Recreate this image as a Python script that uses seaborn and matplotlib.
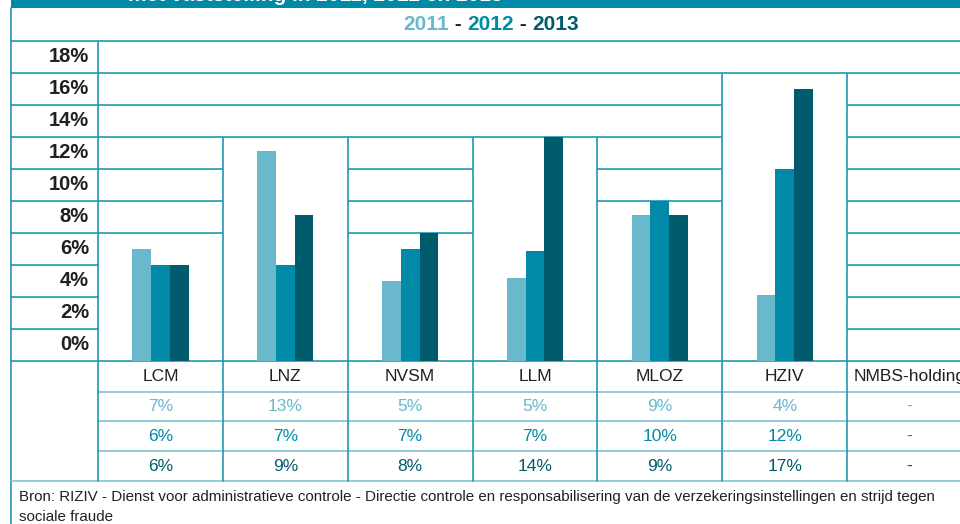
import numpy as np
import pandas as pd
import matplotlib
matplotlib.use("Agg")
import matplotlib.pyplot as plt
import seaborn as sns
from matplotlib.transforms import blended_transform_factory as btf
from matplotlib.patches import Rectangle

# ---------------- data ----------------
categories = ["LCM", "LNZ", "NVSM", "LLM", "MLOZ", "HZIV", "NMBS-holding"]
years = ["2011", "2012", "2013"]
v2011 = [7.0, 13.1, 5.0, 5.2, 9.1, 4.1, np.nan]
v2012 = [6.0, 6.0, 7.0, 6.9, 10.0, 12.0, np.nan]
v2013 = [6.0, 9.1, 8.0, 14.0, 9.1, 17.0, np.nan]
lab2011 = ["7%", "13%", "5%", "5%", "9%", "4%", "-"]
lab2012 = ["6%", "7%", "7%", "7%", "10%", "12%", "-"]
lab2013 = ["6%", "9%", "8%", "14%", "9%", "17%", "-"]
ytick_values = [0, 2, 4, 6, 8, 10, 12, 14, 16, 18]
title_text = "met vaststelling in 2011, 2012 en 2013"
source_text = ("Bron: RIZIV - Dienst voor administratieve controle - Directie controle en "
               "responsabilisering van de verzekeringsinstellingen en strijd tegen\nsociale fraude")

colors = {"2011": "#69b8cb", "2012": "#008aa7", "2013": "#005b6d"}
grid_c = "#1f97b3"
row_c = "#7fc5d5"

sns.set_theme(style="white")
plt.rcParams["font.family"] = ["Liberation Sans", "DejaVu Sans"]

W, H = 960, 524
fig = plt.figure(figsize=(W / 100, H / 100), dpi=100)
fig.patch.set_facecolor("white")

# overlay in pixel coordinates (layout only)
ov = fig.add_axes([0, 0, 1, 1], zorder=0)
ov.set_xlim(0, W)
ov.set_ylim(H, 0)
ov.axis("off")

# main plotting axes: columns 98px .. 972px, levels 0..20 -> y 361..41
x0, x1, ytop, ybot = 98, 972, 41, 361
ax = fig.add_axes([x0 / W, 1 - ybot / H, (x1 - x0) / W, (ybot - ytop) / H], zorder=1)
ax.patch.set_alpha(0)

rows = []
for yr, vals in zip(years, [v2011, v2012, v2013]):
    for c, v in zip(categories, vals):
        rows.append({"categorie": c, "jaar": yr, "waarde": v})
df = pd.DataFrame(rows).dropna()

sns.barplot(data=df, x="categorie", y="waarde", hue="jaar", order=categories,
            hue_order=years, palette=colors, width=0.45, saturation=1,
            errorbar=None, legend=False, ax=ax, zorder=3, linewidth=0,
            edgecolor="none")
ax.set_xlim(-0.5, len(categories) - 0.5)
ax.set_ylim(0, 20)
ax.axis("off")

# per column ceiling: first even level at or above the tallest bar
allv = np.array([v2011, v2012, v2013], dtype=float)
ceil = []
for j in range(len(categories)):
    col = allv[:, j]
    m = 0 if np.all(np.isnan(col)) else np.nanmax(col)
    ceil.append(int(np.ceil(m / 2 - 1e-9) * 2))

lw = 1.2
# gridlines within columns
for j, c in enumerate(ceil):
    for lv in range(2, 20, 2):
        if lv >= c:
            ax.hlines(lv, j - 0.5, j + 0.5, color=grid_c, lw=lw, zorder=1)
# vertical separators in chart area
for j in range(len(categories)):
    top = 20 if j == 0 else max(ceil[j - 1], ceil[j])
    ax.vlines(j - 0.5, 0, top, color=grid_c, lw=lw, zorder=1, clip_on=False)

# label column lines
tY = btf(ov.transData, ax.transData)
for lv in range(2, 20, 2):
    ov.plot([11, x0], [lv, lv], color=grid_c, lw=lw, transform=tY, clip_on=False)
for lv in (0, 20):
    ov.plot([11, W], [lv, lv], color=grid_c, lw=lw, transform=tY, clip_on=False)

# y labels (label k% centered in row k..k+2)
for k in ytick_values:
    ov.text(89, k + 1, f"{k}%", transform=tY, ha="right", va="center",
            fontsize=14.5, fontweight="bold", color="#231f20")

# left border and title band
ov.plot([11, 11], [8, H], color=grid_c, lw=lw)
ov.add_patch(Rectangle((11, 0), W - 11, 8.3, color="#008aa7", lw=0))
ov.text(128, 1.2, title_text, ha="left", va="baseline", fontsize=15,
        fontweight="bold", color="white")

# header: 2011 - 2012 - 2013
renderer = fig.canvas.get_renderer()
parts = [("2011", colors["2011"]), (" - ", "#231f20"), ("2012", colors["2012"]),
         (" - ", "#231f20"), ("2013", colors["2013"])]
txts, widths = [], []
for s, c in parts:
    t = ov.text(0, 25, s, ha="left", va="center", fontsize=15, fontweight="bold", color=c)
    bb = t.get_window_extent(renderer=renderer)
    txts.append(t)
    widths.append(bb.width)
xs = 491 - sum(widths) / 2
for t, w in zip(txts, widths):
    t.set_x(xs)
    xs += w

# table below
tX = btf(ax.transData, ov.transData)
row_lines = [361, 391.7, 421, 451, 481]
for yl in row_lines[1:-1]:
    ov.plot([x0, W], [yl, yl], color=row_c, lw=lw, clip_on=False)
ov.plot([11, W], [481, 481], color=row_c, lw=lw, clip_on=False)
for j in range(len(categories)):
    ov.plot([j - 0.5, j - 0.5], [361, 481], color=grid_c, lw=lw, transform=tX, clip_on=False)

row_centers = [376.5, 406.5, 436.5, 466.5]
for j, cat in enumerate(categories):
    ov.text(j, row_centers[0], cat, transform=tX, ha="center", va="center",
            fontsize=12.5, color="#231f20")
    for r, (labs, yr) in enumerate(zip([lab2011, lab2012, lab2013], years)):
        ov.text(j, row_centers[r + 1], labs[j], transform=tX, ha="center", va="center",
                fontsize=12.5, color=colors[yr])

ov.text(19, 489.5, source_text, ha="left", va="top", fontsize=10.9, color="#231f20",
        linespacing=1.55)

fig.savefig("out.png", dpi=100, facecolor="white")
